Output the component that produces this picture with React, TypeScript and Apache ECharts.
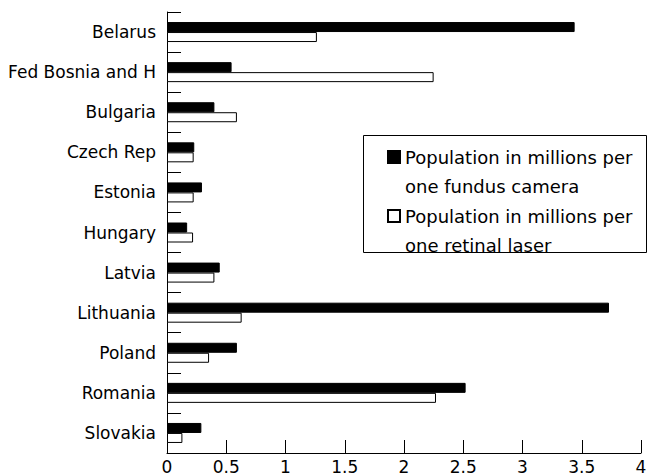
import React, { useEffect, useRef } from "react";
import * as echarts from "echarts";

const categories = [
  "Belarus",
  "Fed Bosnia and H",
  "Bulgaria",
  "Czech Rep",
  "Estonia",
  "Hungary",
  "Latvia",
  "Lithuania",
  "Poland",
  "Romania",
  "Slovakia",
];
const fundusCamera = [3.44, 0.545, 0.4, 0.23, 0.295, 0.17, 0.445, 3.73, 0.59, 2.52, 0.29];
const retinalLaser = [1.265, 2.25, 0.59, 0.225, 0.225, 0.22, 0.4, 0.63, 0.355, 2.27, 0.13];
const xTicks = ["0", "0.5", "1", "1.5", "2", "2.5", "3", "3.5", "4"];
const seriesNames = [
  "Population in millions per\none fundus camera",
  "Population in millions per\none retinal laser",
];

const FONT = "DejaVu Sans";
const LH = 29.5;

export default function App() {
  const ref = useRef<HTMLDivElement>(null);
  useEffect(() => {
    if (!ref.current) return;
    const chart = echarts.init(ref.current, null, { renderer: "svg" });
    chart.setOption({
      animation: false,
      backgroundColor: "#ffffff",
      textStyle: { fontFamily: FONT, color: "#000" },
      grid: { left: 167, right: 9, top: 12, bottom: 22, containLabel: false },
      legend: {
        orient: "vertical",
        left: 387,
        top: 157 - 1.5 * LH,
        itemWidth: 12,
        itemHeight: 12,
        itemGap: -LH,
        icon: "rect",
        padding: 0,
        formatter: (name: string) => " \n" + name,
        textStyle: {
          fontFamily: FONT,
          fontSize: 18,
          color: "#000",
          lineHeight: LH,
        },
        data: seriesNames,
      },
      graphic: [
        {
          type: "rect",
          shape: { x: 363.5, y: 135.5, width: 283, height: 117 },
          style: { fill: "none", stroke: "#000", lineWidth: 1 },
          z: 10,
        },
      ],
      xAxis: {
        type: "value",
        min: 0,
        max: 4,
        interval: 0.5,
        axisLine: { show: true, lineStyle: { color: "#000", width: 1 } },
        axisTick: { show: true, inside: true, length: 13, lineStyle: { color: "#000" } },
        splitLine: { show: false },
        axisLabel: {
          fontFamily: FONT,
          fontSize: 17,
          color: "#000",
          margin: 5,
          formatter: (v: number) => xTicks[Math.round(v * 2)] ?? String(v),
        },
      },
      yAxis: {
        type: "category",
        inverse: true,
        data: categories,
        axisLine: { show: true, lineStyle: { color: "#000", width: 1 } },
        axisTick: { show: true, inside: true, length: 14, lineStyle: { color: "#000" } },
        axisLabel: { fontFamily: FONT, fontSize: 17, color: "#000", margin: 11 },
      },
      series: [
        {
          name: seriesNames[0],
          type: "bar",
          data: fundusCamera,
          barWidth: 10,
          barGap: "0%",
          itemStyle: { color: "#000", borderColor: "#000", borderWidth: 1 },
        },
        {
          name: seriesNames[1],
          type: "bar",
          data: retinalLaser,
          barWidth: 10,
          barGap: "0%",
          itemStyle: { color: "#fff", borderColor: "#000", borderWidth: 1 },
        },
      ],
    });
    return () => chart.dispose();
  }, []);
  return (
    <div
      ref={ref}
      style={{ position: "fixed", left: 0, top: 0, width: 650, height: 475 }}
    />
  );
}
